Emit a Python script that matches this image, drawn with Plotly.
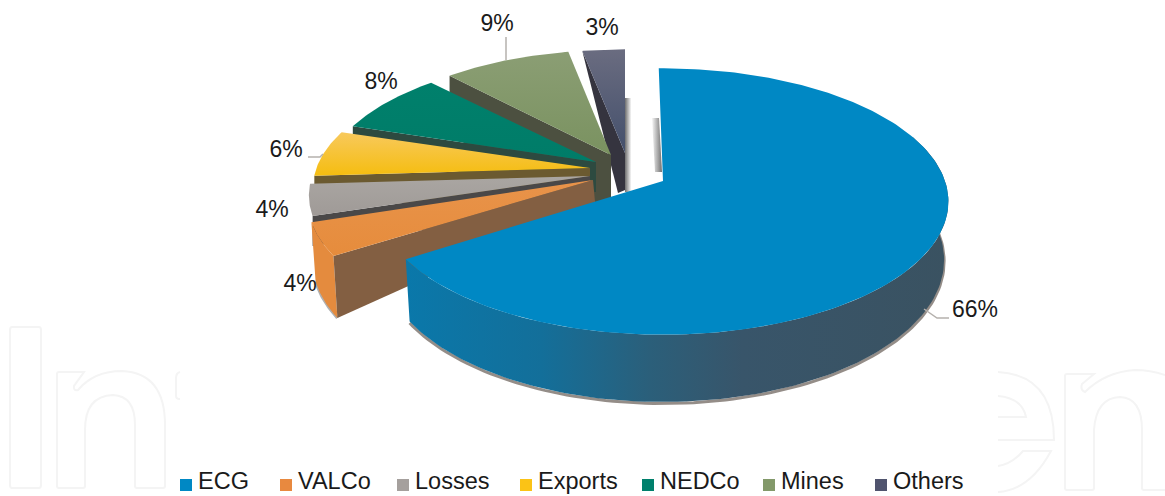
import numpy as np
import plotly.graph_objects as go

# ---- data ----
categories = ["ECG", "VALCo", "Losses", "Exports", "NEDCo", "Mines", "Others"]
values = [66, 4, 4, 6, 8, 9, 3]

# ---- styling / geometry of the fake 3-D exploded pie ----
face_top = ["#0088c4", "#e8934a", "#aaa6a2", "#f8c95c", "#00806c", "#8b9e74", "#6a6c80"]
face_bot = ["#0088c4", "#e68c3c", "#9f9a97", "#f5bd10", "#007c68", "#7a9260", "#44506c"]
wall_col = ["#0b78ab", "#835f42", "#4a4848", "#6b5a30", "#2d4a40", "#4c5040", "#35343f"]
swatch = ["#0088c4", "#e8893f", "#a5a09d", "#fbc316", "#00806c", "#83996a", "#50546e"]
apex_x = [663, 593, 590, 590, 596, 611, 625]
apex_y = [181, 180, 176, 168, 162, 155, 153]
scale_x = [1.0, 1.0, 0.985, 0.97, 0.95, 0.93, 0.93]
scale_y = [1.0, 1.0, 0.95, 0.93, 0.93, 0.93, 0.92]
rotate = [-1.0, 0, 0, 0, 0, 0, 0]
depth = [57, 57, 30, 30, 30, 60, 36]
label_x = [975, 300, 272, 286, 381, 497, 602]
label_y = [311, 285, 211, 151, 83, 25, 29]
legend_sq_x = [186, 286, 403, 526, 648, 769, 881]
legend_y = 485
legend_text_y = 483.5
FONT = "Liberation Sans"
A, B, K = 282.0, 130.0, 0.154
SHRINK = 0.985


def rim(i, th_deg, drop=None):
    th = np.radians(np.asarray(th_deg, dtype=float) + rotate[i])
    u, v = np.sin(th), -np.cos(th)
    w = 1 - K * v
    f = 1.0 if drop is None else SHRINK
    x = apex_x[i] + f * scale_x[i] * A * u / w
    y = apex_y[i] + scale_y[i] * B * v / w + (0 if drop is None else drop / w)
    return x, y


edges = np.concatenate([[0], np.cumsum(values)]) * 360.0 / sum(values)
fig = go.Figure()


def poly(xs, ys, color=None, grad=None, gtype="vertical"):
    kw = dict(x=list(xs), y=list(ys), mode="lines", fill="toself", line=dict(width=0),
              hoverinfo="skip", showlegend=False)
    if grad:
        kw["fillgradient"] = dict(type=gtype, colorscale=grad)
    else:
        kw["fillcolor"] = color
    fig.add_trace(go.Scatter(**kw))


def line(xs, ys, color, width):
    fig.add_trace(go.Scatter(x=list(xs), y=list(ys), mode="lines", hoverinfo="skip", showlegend=False,
                             line=dict(color=color, width=width)))


# soft shadows cast by the back slices
poly([625, 631, 631, 625], [98, 98, 192, 192], grad=[[0, "#6e6e6e"], [1, "#f6f6f6"]], gtype="horizontal")
poly([652, 659, 662, 655], [118, 118, 172, 172], grad=[[0, "#f6f6f6"], [1, "#707070"]], gtype="horizontal")

# small slices back to front, then the big one
for i in range(len(values) - 1, 0, -1):
    a0, a1 = edges[i], edges[i + 1]
    th = np.linspace(a0, a1, 40)
    rx, ry = rim(i, th)
    ax, ay = rim(i, a0)
    if i == 1:
        # VALCo: outer rim wall + radial wall
        bx, by = rim(i, th, depth[i])
        line(list(bx), list(by), "rgba(80,80,80,0.45)", 3)
        poly(list(rx) + list(bx[::-1]), list(ry) + list(by[::-1]), "#e48b3e")
        ax2, ay2 = rim(i, a0, depth[i])
        poly([ax, apex_x[i], apex_x[i] + 2, ax2], [ay, apex_y[i], apex_y[i] + 22, ay2], wall_col[i])
    elif i == len(values) - 1:
        # Others: the wall narrows to the foot of the slice
        poly([ax, apex_x[i], apex_x[i], apex_x[i] - 7],
             [ay, apex_y[i], apex_y[i] + depth[i] + 1, apex_y[i] + depth[i] + 4], wall_col[i])
    else:
        poly([ax, apex_x[i], apex_x[i], ax], [ay, apex_y[i], apex_y[i] + depth[i], ay + depth[i]], wall_col[i])
    # vertical gradients run bottom-to-top on this reversed axis
    poly([apex_x[i]] + list(rx) + [apex_x[i]], [apex_y[i]] + list(ry) + [apex_y[i]],
         grad=[[0, face_bot[i]], [1, face_top[i]]])

# ECG: wall with a left-to-right gradient, then the top face
th = np.linspace(70, edges[1], 120)
tx, ty = rim(0, th)
bx, by = rim(0, th, depth[0])
line(bx, by + 1.5, "rgba(90,80,72,0.65)", 3)
poly(list(tx) + list(bx[::-1]), list(ty) + list(by[::-1]),
     grad=[[0, "#0a78aa"], [0.25, "#136f9a"], [0.45, "#2b5f7a"], [0.62, "#38556a"], [1, "#3a5261"]],
     gtype="horizontal")
th = np.linspace(edges[0], edges[1], 200)
tx, ty = rim(0, th)
poly([apex_x[0]] + list(tx) + [apex_x[0]], [apex_y[0]] + list(ty) + [apex_y[0]], face_top[0])

# leader lines
leaders_x = [[506, 506], [308, 320, 323], [924, 937, 949]]
leaders_y = [[37, 60], [157, 157, 154], [309, 318, 318]]
for lx, ly in zip(leaders_x, leaders_y):
    line(lx, ly, "#b5b1ad", 1.5)

# percentage labels
fig.add_trace(go.Scatter(x=label_x, y=label_y, mode="text", text=[f"{v}%" for v in values],
                         textposition="middle center", hoverinfo="skip", showlegend=False,
                         textfont=dict(family=FONT, size=23, color="#1a1a1a")))

# legend row
fig.add_trace(go.Scatter(x=legend_sq_x, y=[legend_y] * len(categories), mode="markers", hoverinfo="skip",
                         showlegend=False, marker=dict(symbol="square", size=12, color=swatch)))
fig.add_trace(go.Scatter(x=[v + 12 for v in legend_sq_x], y=[legend_text_y] * len(categories), mode="text",
                         text=categories, textposition="middle right", hoverinfo="skip", showlegend=False,
                         textfont=dict(family=FONT, size=23.5, color="#1a1a1a")))

# faint outlined watermark behind everything
WM = "#f4f4f4"
wm_paths = [
    "M12,327 L39,327 Q41,327 41,330 L41,485 Q41,488 39,488 L12,488 Q10,488 10,485 L10,330 Q10,327 12,327 Z",
    "M59,372 L84,372 L74,386 Q73,391 78,390 Q94,371 122,371 Q165,373 165,425 L165,486 Q165,488 163,488 "
    "L137,488 Q135,488 135,486 L135,425 Q135,396 113,395 Q85,396 85,430 L85,486 Q85,488 83,488 L59,488 "
    "Q57,488 57,486 L57,374 Q57,372 59,372 Z",
    "M180,372 Q176,373 176,378 L176,396 Q176,399 180,399",
    "M998,372 Q1054,375 1054,440 L998,440",
    "M998,417 L1026,417 Q1022,398 998,396",
    "M998,492 Q1030,490 1051,451 L1023,451 Q1012,464 998,466",
    "M1165,375 Q1150,370 1135,370 Q1105,372 1085,392 Q1080,390 1082,384 L1094,374 L1067,374 Q1065,374 1065,376 "
    "L1065,488 Q1065,490 1067,490 L1092,490 Q1094,490 1094,488 L1094,430 Q1096,398 1120,397 Q1142,398 1142,430 "
    "L1142,488 Q1142,490 1144,490 L1165,490",
]
shapes = [dict(type="path", path=p, xref="x", yref="y", layer="below", line=dict(color=WM, width=2))
          for p in wm_paths]

fig.update_layout(
    width=1165, height=496, margin=dict(l=0, r=0, t=0, b=0),
    paper_bgcolor="white", plot_bgcolor="white", shapes=shapes, showlegend=False,
    xaxis=dict(range=[0, 1165], visible=False, fixedrange=True),
    yaxis=dict(range=[496, 0], visible=False, fixedrange=True),
)
fig.write_html("out.html", config={"displayModeBar": False},
               post_script="document.body.style.margin='0';")
